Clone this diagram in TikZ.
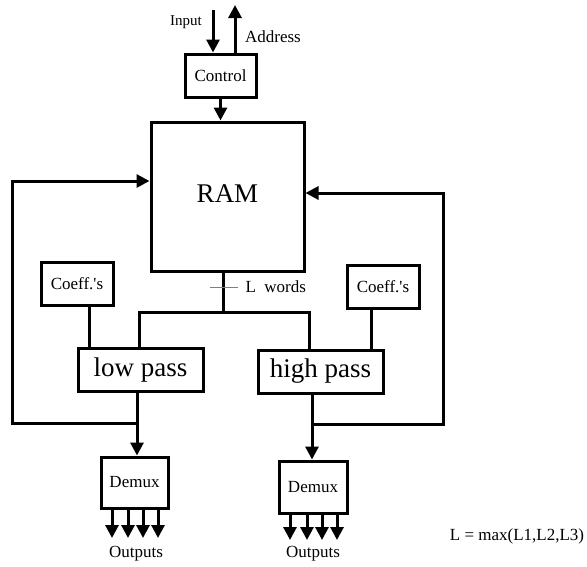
\documentclass[tikz,border=0pt]{standalone}
\usepackage{fontspec}
\setmainfont{Liberation Serif}
\usetikzlibrary{arrows.meta,calc}
\begin{document}
\begin{tikzpicture}[x=1pt,y=-1pt,
  box/.style={draw,line width=3pt,inner sep=0pt,fill=white},
  wire/.style={line width=3pt},
  arr/.style={wire,-{Triangle[length=13pt,width=13pt]}},
  oarr/.style={wire,-{Triangle[length=13pt,width=13pt]}},
  small/.style={font=\fontsize{17}{19}\selectfont},
  big/.style={font=\fontsize{27}{30}\selectfont}]
\useasboundingbox (0,0) rectangle (587,566);
% boxes
\node[box,small,minimum width=71pt,minimum height=43pt] (ctrl) at (220.5,75.5) {Control};
\node[box,big,minimum width=153pt,minimum height=149pt] (ram) at (227.5,196.5) {};
\node[big] (ramt) at (227.5,194) {RAM};
\node[box,small,minimum width=72pt,minimum height=43pt] (cl) at (77,283.5) {Coeff.\textquotesingle s};
\node[box,small,minimum width=72pt,minimum height=43pt] (cr) at (383,286.5) {Coeff.\textquotesingle s};
\node[box,big,minimum width=125pt,minimum height=43pt] (lp) at (140.5,369.5) {low pass};
\node[box,big,minimum width=125pt,minimum height=43pt] (hp) at (320.5,371.5) {high pass};
\node[box,small,minimum width=67pt,minimum height=51pt] (dl) at (134.5,482.5) {Demux};
\node[box,small,minimum width=68pt,minimum height=52pt] (dr) at (313,487) {Demux};
% labels
\node[font=\fontsize{15}{17}\selectfont] (inl) at (186,22) {Input};
\node[small] (adl) at (273,37) {Address};
\node[small,anchor=west] (lw) at (242,287) {L\ \ words};
\node[small] (ol) at (136,554) {Outputs};
\node[small] (or) at (313,554) {Outputs};
\node[small] (eq) at (517,536) {L = max(L1,L2,L3)};
% coordinates
\coordinate (inT) at (213,10);
\coordinate (adT) at (235,5);
\coordinate (bus) at (223,312);
\coordinate (busL) at (139,312);
\coordinate (busR) at (309,312);
\coordinate (fbL1) at (137,423);
\coordinate (fbL2) at (12,423);
\coordinate (fbL3) at (12,181);
\coordinate (fbR1) at (312,424);
\coordinate (fbR2) at (443,424);
\coordinate (fbR3) at (443,193);
\coordinate (tk1) at (210,287);
\coordinate (tk2) at (238,287);
% top connectors
\draw[arr] (inT) -- (inT |- ctrl.north);
\draw[arr] (adT |- ctrl.north) -- (adT);
\draw[arr] (ctrl.south) -- (ctrl.south |- ram.north);
% bus
\draw[wire] (bus |- ram.south) -- (bus);
\draw[wire] (busL |- lp.north) -- (busL) -- (busR) -- (busR |- hp.north);
\draw[gray,line width=0.8pt] (tk1) -- (tk2);
% coeff links
\draw[wire] ([xshift=12pt]cl.south) -- ([xshift=12pt]cl.south |- lp.north);
\draw[wire] ([xshift=-12pt]cr.south) -- ([xshift=-12pt]cr.south |- hp.north);
% outputs of filters
\draw[arr] (fbL1 |- lp.south) -- (fbL1 |- dl.north);
\draw[arr] (fbR1 |- hp.south) -- (fbR1 |- dr.north);
% feedback
\draw[arr] (fbL1) -- (fbL2) -- (fbL3) -- (fbL3 -| ram.west);
\draw[arr] (fbR1) -- (fbR2) -- (fbR3) -- (fbR3 -| ram.east);
% demux outputs
\foreach \x in {112,128,143,158}{
  \draw[oarr] (\x,0 |- dl.south) -- (\x,538);
}
\foreach \x in {290,307,322,337}{
  \draw[oarr] (\x,0 |- dr.south) -- (\x,540);
}
\end{tikzpicture}
\end{document}
